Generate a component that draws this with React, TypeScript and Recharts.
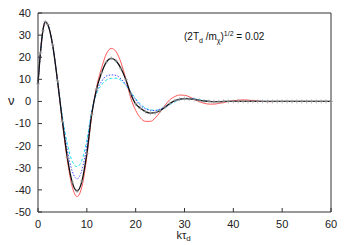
import { LineChart, Line, XAxis, YAxis } from 'recharts';

const xs = [0, 0.5, 1, 1.5, 2, 3, 4, 5, 6, 7, 8, 9, 10, 11, 12, 13, 14, 15, 16, 17, 18, 19, 20,
  21, 22, 23, 24, 25, 26, 27, 28, 29, 30, 31, 32, 33, 34, 35, 36, 37, 38, 39, 40,
  41, 42, 43, 44, 45, 46, 47, 48, 49, 50, 51, 52, 53, 54, 55, 56, 57, 58, 59, 60];

const black = [8, 22, 32, 36, 34.8, 25.5, 9.3, -9, -25.2, -36.5, -40.5, -36, -23.5, -5.8, 5.7, 12.9, 17.8, 19.5, 18.3, 14.9, 9.8, 3.4, -1.1,
  -3.1, -4.6, -5.3, -5.1, -4.2, -2.6, -0.9, 0.4, 1.0, 1.3, 1.2, 0.9, 0.5, 0.2, 0, -0.1, -0.1, 0, 0, 0,
  0, 0, 0, 0, 0, 0, 0, 0, 0, 0, 0, 0, 0, 0, 0, 0, 0, 0, 0, 0];

const red = [8, 22, 32, 36, 34.8, 25.5, 9.3, -9.5, -26.5, -38.5, -43, -38.5, -25, -6.5, 6.5, 15, 21.5, 24, 22.5, 17.5, 10, 1.5, -4,
  -7.5, -9, -9, -7.5, -4.8, -1.8, 0.8, 2.2, 2.9, 2.8, 2.1, 1.0, -0.1, -0.8, -1.2, -1.2, -0.9, -0.5, 0, 0.3,
  0.6, 0.7, 0.6, 0.4, 0.2, 0, -0.1, -0.1, 0, 0, 0, 0, 0, 0, 0, 0, 0, 0, 0, 0];

const blue = [8, 22, 32, 36, 34.8, 25.5, 9.3, -8, -22, -31.5, -35, -31, -20, -5, 4.5, 9, 11.5, 12, 11.8, 10.2, 7.5, 4, 0.8,
  -1.8, -3.3, -4, -4.1, -3.5, -2.3, -1, 0.2, 1, 1.4, 1.4, 1.1, 0.6, 0.2, 0, -0.1, 0, 0, 0, 0,
  0, 0, 0, 0, 0, 0, 0, 0, 0, 0, 0, 0, 0, 0, 0, 0, 0, 0, 0, 0];

const cyan = [8, 22, 32, 36, 34.8, 25.5, 9.3, -7, -19, -27, -29.5, -26.5, -17.5, -4.5, 3.5, 7.5, 9.7, 10.4, 10.5, 9.5, 7.2, 4.3, 1.3,
  -1.3, -3, -3.8, -4, -3.6, -2.6, -1.4, -0.2, 0.7, 1.2, 1.3, 1.2, 0.8, 0.4, 0.1, -0.1, 0, 0, 0, 0,
  0, 0, 0, 0, 0, 0, 0, 0, 0, 0, 0, 0, 0, 0, 0, 0, 0, 0, 0, 0];

const xTicks = [0, 10, 20, 30, 40, 50, 60];
const yTicks = [-50, -40, -30, -20, -10, 0, 10, 20, 30, 40];

const data = xs.map((x, i) => ({ x, black: black[i], red: red[i], blue: blue[i], cyan: cyan[i] }));

const font = '"Liberation Sans", Arial, Helvetica, sans-serif';
const axisColor = '#333';

function PlusDot(props: any) {
  const { cx, cy } = props;
  if (cx == null || cy == null) return null;
  return <path d={`M${cx - 2},${cy}h4M${cx},${cy - 2}v4`} stroke="#999" strokeWidth={0.7} fill="none" />;
}

export default function App() {
  return (
    <div style={{ position: 'absolute', left: 0, top: 0, width: 350, height: 245, fontFamily: font, background: '#fff' }}>
      <LineChart width={350} height={245} data={data} margin={{ top: 12, right: 18, bottom: 0, left: 0 }}>
        <XAxis
          xAxisId="b"
          dataKey="x"
          type="number"
          domain={[0, 60]}
          ticks={xTicks}
          height={33}
          tickSize={-4}
          tickMargin={12}
          stroke={axisColor}
          tick={{ fontSize: 11, fill: '#222', fontFamily: font }}
          label={{
            content: (p: any) => {
              const vb = p.viewBox;
              return (
                <text x={vb.x + vb.width / 2 - 8} y={vb.y + 27} fontSize={11} fill="#222" fontFamily={font}>
                  kτ<tspan fontSize={8} dy={2}>d</tspan>
                </text>
              );
            },
          }}
        />
        <XAxis xAxisId="t" dataKey="x" type="number" domain={[0, 60]} ticks={xTicks} orientation="top" height={1} tickSize={-4} tick={false} stroke={axisColor} />
        <YAxis
          yAxisId="l"
          type="number"
          domain={[-50, 40]}
          ticks={yTicks}
          width={38}
          tickSize={-4}
          tickMargin={11}
          stroke={axisColor}
          tick={{ fontSize: 11, fill: '#222', fontFamily: font }}
          label={{
            content: () => (
              <text x={8} y={105} fontSize={13} fill="#222" fontFamily={font}>ν</text>
            ),
          }}
        />
        <YAxis yAxisId="r" type="number" orientation="right" domain={[-50, 40]} ticks={yTicks} width={1} tickSize={-4} tick={false} stroke={axisColor} />
        <Line xAxisId="b" yAxisId="l" type="monotone" dataKey="red" stroke="#ff3030" strokeWidth={0.8} dot={false} isAnimationActive={false} />
        <Line xAxisId="b" yAxisId="l" type="monotone" dataKey="cyan" stroke="#22e0ee" strokeWidth={1} strokeDasharray="3 2" dot={false} isAnimationActive={false} />
        <Line xAxisId="b" yAxisId="l" type="monotone" dataKey="blue" stroke="#4a4aff" strokeWidth={1} strokeDasharray="1.5 1.5" dot={false} isAnimationActive={false} />
        <Line xAxisId="b" yAxisId="l" type="monotone" dataKey="black" stroke="#111" strokeWidth={1.3} dot={<PlusDot />} isAnimationActive={false} />
      </LineChart>
      <div style={{ position: 'absolute', left: 184, top: 28, fontSize: 10, lineHeight: '12px', color: '#111', whiteSpace: 'nowrap' }}>
        (2T<sub style={{ fontSize: 7 }}>d</sub> /m<sub style={{ fontSize: 7 }}>χ</sub>)<sup style={{ fontSize: 7 }}>1/2</sup> = 0.02
      </div>
    </div>
  );
}
